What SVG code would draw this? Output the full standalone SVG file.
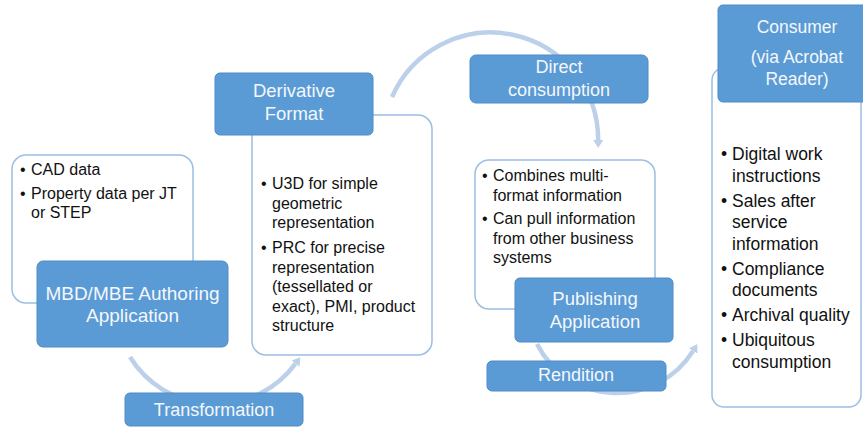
<svg xmlns="http://www.w3.org/2000/svg" width="863" height="427" viewBox="0 0 863 427">
<defs>
<style>
.wbox{fill:#ffffff;stroke:#9bbfe3;stroke-width:1.5}
.bbox{fill:#5b9bd5;stroke:#4f8bc4;stroke-width:1}
.lbl{font-family:"Liberation Sans",Arial,sans-serif;fill:#f4f7fb;text-anchor:middle}
.bt{font-family:"Liberation Sans",Arial,sans-serif;fill:#111111;font-size:16px}
.ct{font-family:"Liberation Sans",Arial,sans-serif;fill:#111111;font-size:17.5px}
.arc{fill:none;stroke:#bcd0ea;stroke-width:4.5}
</style>
<marker id="ah" viewBox="0 0 8 10" refX="0" refY="5" markerWidth="8" markerHeight="10" markerUnits="userSpaceOnUse" orient="auto">
<path d="M0,0 L8,5 L0,10 z" fill="#bcd0ea"/>
</marker>
</defs>
<rect width="863" height="427" fill="#ffffff"/>

<g id="connectors">
<path class="arc" d="M130,357 A100,100 0 0 0 295.5,363.6" marker-end="url(#ah)"/>
<path class="arc" d="M392,97 A107.6,107.6 0 0 1 598.2,140" marker-end="url(#ah)"/>
<path class="arc" d="M537,344 A89.8,89.8 0 0 0 693.1,350.9" marker-end="url(#ah)"/>
</g>

<g id="mbd">
<rect class="wbox" x="12" y="155" width="181" height="148" rx="14"/>
<text class="bt" x="20" y="175">•</text><text class="bt" x="31" y="175">CAD data</text>
<text class="bt" x="20" y="199">•</text><text class="bt" x="31" y="199">Property data per JT</text>
<text class="bt" x="31" y="218">or STEP</text>
<rect class="bbox" x="37" y="261" width="191" height="86" rx="6"/>
<text class="lbl" x="132.5" y="300" font-size="19">MBD/MBE Authoring</text>
<text class="lbl" x="132.5" y="322" font-size="19">Application</text>
</g>

<g id="derivative">
<rect class="wbox" x="252" y="115" width="180" height="240" rx="14"/>
<rect class="bbox" x="215" y="73" width="158" height="62" rx="5"/>
<text class="lbl" x="294" y="97" font-size="18.5">Derivative</text>
<text class="lbl" x="294" y="120" font-size="18.5">Format</text>
<text class="bt" x="261" y="189">•</text><text class="bt" x="272" y="189">U3D for simple</text>
<text class="bt" x="272" y="208.5">geometric</text>
<text class="bt" x="272" y="228">representation</text>
<text class="bt" x="261" y="253">•</text><text class="bt" x="272" y="253">PRC for precise</text>
<text class="bt" x="272" y="272.5">representation</text>
<text class="bt" x="272" y="292">(tessellated or</text>
<text class="bt" x="272" y="311.5">exact), PMI, product</text>
<text class="bt" x="272" y="331">structure</text>
</g>

<g id="direct">
<rect class="bbox" x="470" y="55" width="178" height="48" rx="6"/>
<text class="lbl" x="559" y="73" font-size="18">Direct</text>
<text class="lbl" x="559" y="96" font-size="18">consumption</text>
</g>

<g id="publishing">
<rect class="wbox" x="475" y="160" width="180" height="149" rx="14"/>
<text class="bt" x="482" y="181">•</text><text class="bt" x="493" y="181">Combines multi-</text>
<text class="bt" x="493" y="200.5">format information</text>
<text class="bt" x="482" y="224">•</text><text class="bt" x="493" y="224">Can pull information</text>
<text class="bt" x="493" y="243.5">from other business</text>
<text class="bt" x="493" y="263">systems</text>
<rect class="bbox" x="515" y="278" width="158" height="64" rx="5"/>
<text class="lbl" x="595" y="305" font-size="18.5">Publishing</text>
<text class="lbl" x="595" y="328" font-size="18.5">Application</text>
</g>

<g id="transformation">
<rect class="bbox" x="125" y="393" width="178" height="33" rx="5"/>
<text class="lbl" x="214" y="416" font-size="18">Transformation</text>
</g>

<g id="rendition">
<rect class="bbox" x="487" y="361" width="179" height="30" rx="5"/>
<text class="lbl" x="576" y="381" font-size="18">Rendition</text>
</g>

<g id="consumer">
<rect class="wbox" x="712" y="68" width="149" height="339" rx="12"/>
<rect class="bbox" x="718" y="5" width="150" height="97" rx="5"/>
<text class="lbl" x="797" y="33" font-size="17.5">Consumer</text>
<text class="lbl" x="797" y="63" font-size="17.5">(via Acrobat</text>
<text class="lbl" x="797" y="85" font-size="17.5">Reader)</text>
<text class="ct" x="721" y="160">•</text><text class="ct" x="732" y="160">Digital work</text>
<text class="ct" x="732" y="181.5">instructions</text>
<text class="ct" x="721" y="207">•</text><text class="ct" x="732" y="207">Sales after</text>
<text class="ct" x="732" y="228">service</text>
<text class="ct" x="732" y="249.5">information</text>
<text class="ct" x="721" y="275">•</text><text class="ct" x="732" y="275">Compliance</text>
<text class="ct" x="732" y="296">documents</text>
<text class="ct" x="721" y="320.5">•</text><text class="ct" x="732" y="320.5">Archival quality</text>
<text class="ct" x="721" y="346">•</text><text class="ct" x="732" y="346">Ubiquitous</text>
<text class="ct" x="732" y="367.5">consumption</text>
</g>
</svg>
